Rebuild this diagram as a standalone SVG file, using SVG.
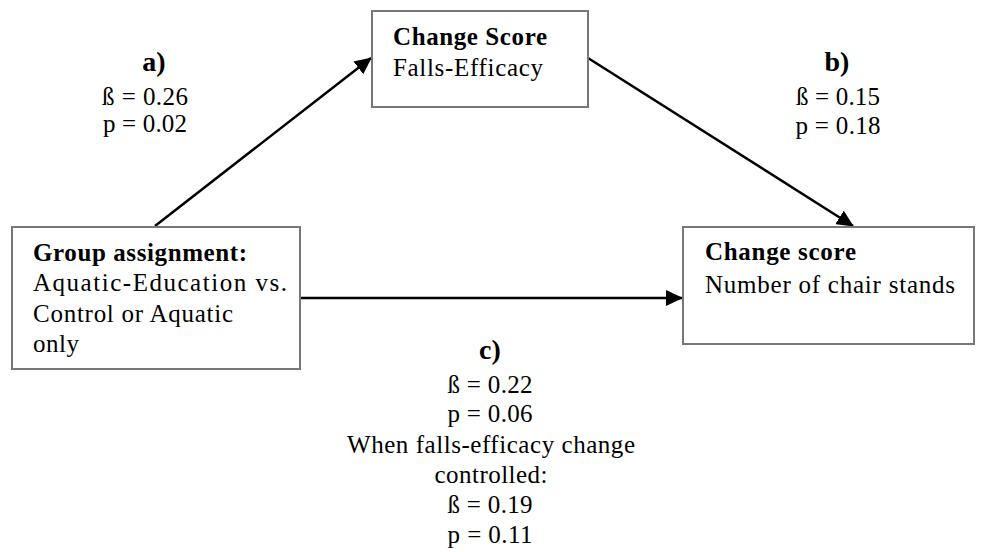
<svg xmlns="http://www.w3.org/2000/svg" width="984" height="552" viewBox="0 0 984 552">
<style>
.box{fill:#fff;stroke:#777;stroke-width:2}
.t{font-family:"Liberation Serif","Times New Roman",serif;font-size:25px;fill:#000}
.b{font-weight:bold}
.lbl{font-size:28px}
.m{text-anchor:middle}
.edge{stroke:#000;stroke-width:2.5;fill:none}
</style>
<defs>
<marker id="ah" markerUnits="userSpaceOnUse" markerWidth="17" markerHeight="16" refX="16" refY="8" orient="auto">
<path d="M0,0 L17,8 L0,16 z" fill="#000"/>
</marker>
</defs>
<rect width="984" height="552" fill="#fff"/>
<g id="connectors">
<line class="edge" x1="155" y1="226" x2="371" y2="58" marker-end="url(#ah)"/>
<line class="edge" x1="588" y1="58" x2="853" y2="226" marker-end="url(#ah)"/>
<line class="edge" x1="300" y1="298" x2="682" y2="298" marker-end="url(#ah)"/>
</g>
<g id="node-mediator">
<rect class="box" x="372" y="11" width="216" height="96"/>
<text class="t b" x="393" y="45" textLength="154" lengthAdjust="spacing">Change Score</text>
<text class="t" x="393" y="76" textLength="150" lengthAdjust="spacing">Falls-Efficacy</text>
</g>
<g id="node-group">
<rect class="box" x="12" y="227" width="288" height="142"/>
<text class="t b" x="33" y="261" textLength="214" lengthAdjust="spacing">Group assignment:</text>
<text class="t" x="33" y="291" textLength="254" lengthAdjust="spacing">Aquatic-Education vs.</text>
<text class="t" x="33" y="322" textLength="200" lengthAdjust="spacing">Control or Aquatic</text>
<text class="t" x="33" y="352" textLength="46" lengthAdjust="spacing">only</text>
</g>
<g id="node-outcome">
<rect class="box" x="683" y="227" width="291" height="117"/>
<text class="t b" x="705" y="260" textLength="151" lengthAdjust="spacing">Change score</text>
<text class="t" x="705" y="293" textLength="250" lengthAdjust="spacing">Number of chair stands</text>
</g>
<g id="label-a">
<text class="t b m lbl" x="154" y="71">a)</text>
<text class="t m" x="145" y="105" textLength="86" lengthAdjust="spacing">ß = 0.26</text>
<text class="t m" x="145" y="132" textLength="84" lengthAdjust="spacing">p = 0.02</text>
</g>
<g id="label-b">
<text class="t b m lbl" x="837" y="71">b)</text>
<text class="t m" x="838" y="105" textLength="84" lengthAdjust="spacing">ß = 0.15</text>
<text class="t m" x="838" y="134" textLength="85" lengthAdjust="spacing">p = 0.18</text>
</g>
<g id="label-c">
<text class="t b m lbl" x="490" y="359">c)</text>
<text class="t m" x="490" y="393" textLength="85" lengthAdjust="spacing">ß = 0.22</text>
<text class="t m" x="490" y="422" textLength="85" lengthAdjust="spacing">p = 0.06</text>
<text class="t m" x="491" y="453" textLength="288" lengthAdjust="spacing">When falls-efficacy change</text>
<text class="t m" x="491" y="483" textLength="113" lengthAdjust="spacing">controlled:</text>
<text class="t m" x="490" y="513" textLength="85" lengthAdjust="spacing">ß = 0.19</text>
<text class="t m" x="490" y="543" textLength="85" lengthAdjust="spacing">p = 0.11</text>
</g>
</svg>
